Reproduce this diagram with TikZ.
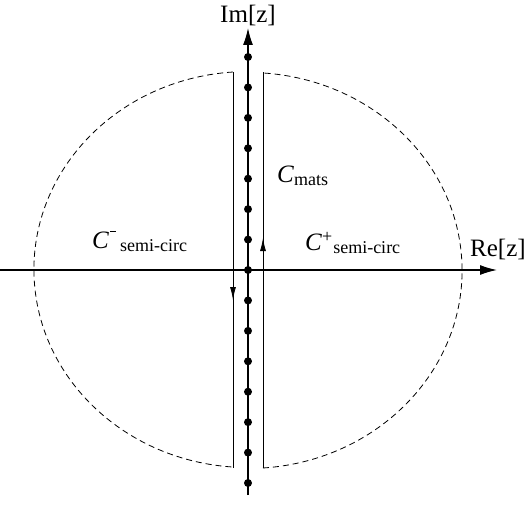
\documentclass[tikz,border=0pt]{standalone}
\usepackage{fontspec}
\setmainfont{Liberation Serif}
\usetikzlibrary{arrows.meta}
\newcommand{\lowtxt}[1]{\raisebox{-3pt}{\fontsize{18}{18}\selectfont #1}}

\begin{document}
\begin{tikzpicture}[x=1pt,y=1pt,>={Latex[length=17pt,width=10pt]},
  lbl/.style={font=\fontsize{25}{29}\selectfont, inner sep=0pt},
  contour/.style={line width=0.9pt},
  tip/.style={-{Latex[length=13pt,width=6pt]}}]
\useasboundingbox (-248,-234) rectangle (279,270);
% axes
\coordinate (west) at (-248,0);
\coordinate (east) at (249,0);
\coordinate (south) at (0,-225);
\coordinate (north) at (0,242);
\draw[->,line width=1.3pt] (west) -- (east);
\draw[->,line width=1.3pt] (south) -- (north);
\node[lbl,anchor=base] (im) at (0,247) {Im[z]};
\node[lbl,anchor=base west] (re) at (222,14) {Re[z]};
% poles
\foreach \k in {-7,...,7}
  \fill (0,\k*30.43) circle (4pt);
% left contour
\coordinate (ltop) at (-15,198);
\coordinate (lbot) at (-15,-198);
\coordinate (ldown) at (-15,-30);
\draw[contour] (ltop) -- (lbot);
\draw[contour,tip] (ltop) -- (ldown);
\draw[dash pattern=on 6pt off 4pt,line width=0.8pt] (ltop) arc[start angle=94,end angle=266,x radius=214,y radius=198];
% right contour
\coordinate (rtop) at (15,198);
\coordinate (rbot) at (15,-198);
\coordinate (rup) at (15,32);
\draw[contour] (rbot) -- (rtop);
\draw[contour,tip] (rbot) -- (rup);
\draw[dash pattern=on 6pt off 4pt,line width=0.8pt] (rbot) arc[start angle=-86,end angle=86,x radius=214,y radius=198];
% labels
\node[lbl,anchor=base west] (cmats) at (29,88) {\textit{C}\lowtxt{mats}};
\node[lbl,anchor=base west] (cplus) at (57,20) {\textit{C}\raisebox{8pt}{\fontsize{18}{18}\selectfont +}\hspace{1pt}\lowtxt{semi-circ}};
\node[lbl,anchor=base west] (cminus) at (-156,22) {\textit{C}\hspace{1pt}\rule[16pt]{6pt}{1.4pt}\hspace{4pt}\lowtxt{semi-circ}};
\end{tikzpicture}
\end{document}
